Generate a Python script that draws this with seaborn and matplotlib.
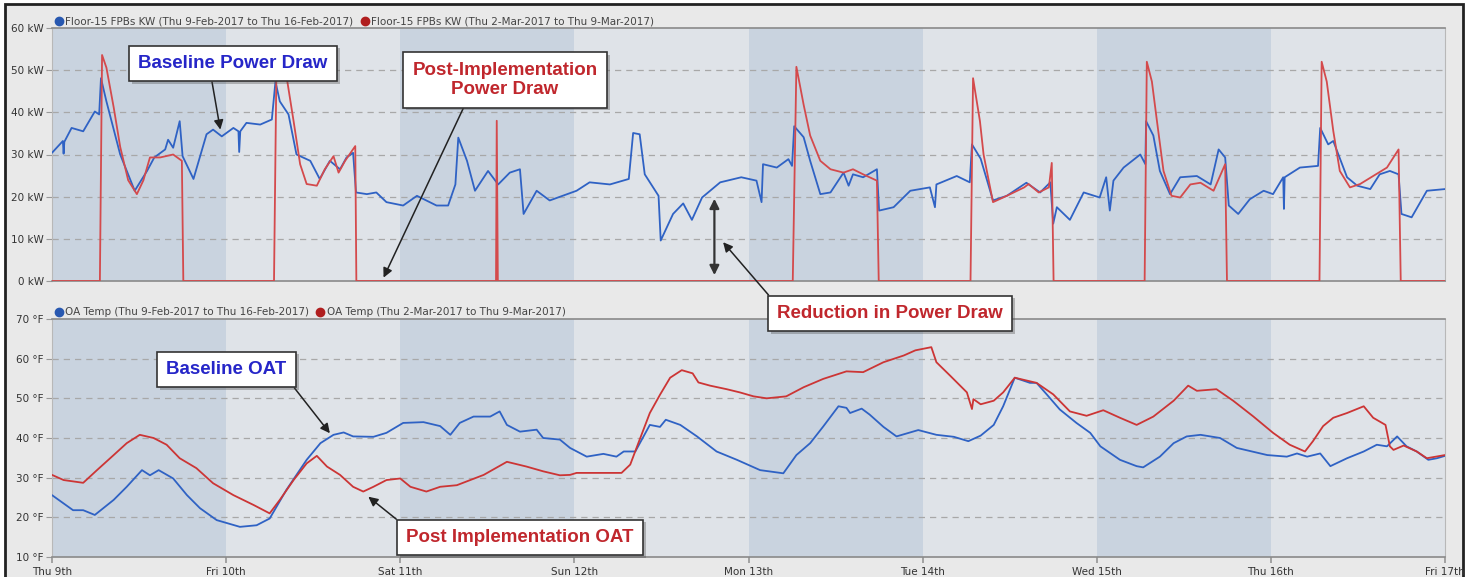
import matplotlib.pyplot as plt
import seaborn as sns
from matplotlib.lines import Line2D
from matplotlib.patches import Rectangle
import matplotlib.patheffects as pe

# hours from Thu 9th 00:00
day_labels = ['Thu 9th', 'Fri 10th', 'Sat 11th', 'Sun 12th', 'Mon 13th',
              'Tue 14th', 'Wed 15th', 'Thu 16th', 'Fri 17th']
day_hours = [0, 24, 48, 72, 96, 120, 144, 168, 192]

base_kw_h = [0, 1.5, 1.6, 1.7, 2.7, 4.3, 5.9, 6.5, 6.75, 7.5, 9.4, 11.4, 13.1, 14.1, 15.6, 16.0,
             16.7, 17.6, 18.0, 19.5, 21.3, 22.2, 23.4, 25.0, 25.7, 25.8, 25.95, 26.8, 28.7, 30.3,
             30.8, 31.4, 32.6, 33.7, 34.6, 35.6, 36.9, 38.3, 39.7, 40.6, 41.5, 41.9, 43.4, 44.7,
             46.1, 48.4, 50.3, 53.0, 54.6, 55.6, 56.0, 57.2, 58.3, 60.1, 61.5, 63.1, 64.5, 65.0,
             66.8, 68.6, 72.3, 74.1, 76.9, 79.5, 80.1, 81.0, 81.7, 83.6, 83.9, 85.6, 87.0, 88.2,
             89.6, 92.1, 95.0, 97.1, 97.8, 98.0, 99.9, 101.5, 102.0, 102.3, 103.6, 104.5, 105.9,
             107.3, 109.1, 109.8, 110.4, 111.8, 113.7, 114.0, 116.0, 118.3, 121.0, 121.7, 121.9,
             124.7, 126.5, 126.8, 128.0, 129.7, 131.6, 134.3, 136.2, 137.6, 138.0, 138.5, 140.3,
             142.2, 144.4, 145.3, 145.8, 146.3, 147.7, 150.0, 150.7, 150.8, 151.8, 152.7, 154.1,
             155.5, 157.8, 159.7, 160.8, 161.7, 162.2, 163.5, 165.1, 167.0, 168.3, 169.7, 169.8,
             169.9, 172.0, 174.5, 174.8, 175.9, 176.6, 178.5, 179.9, 181.7, 183.0, 184.4, 185.6,
             186.0, 187.4, 189.5, 192.0]
base_kw = [30.4, 33.2, 30.2, 33.0, 36.3, 35.5, 40.2, 39.5, 48.1, 42.6, 30.0, 21.4, 26.1, 29.3, 31.2, 33.5,
           31.6, 37.9, 29.6, 24.2, 34.8, 35.9, 34.3, 36.3, 35.5, 30.6, 35.5, 37.5, 37.1, 38.3,
           47.3, 42.6, 39.5, 30.0, 29.3, 28.5, 24.2, 28.5, 26.5, 29.3, 30.4, 21.0, 20.6, 21.0,
           18.7, 17.9, 20.2, 17.9, 17.9, 22.9, 34.0, 28.5, 21.4, 26.1, 22.9, 25.7, 26.5, 15.9,
           21.4, 19.1, 21.4, 23.4, 22.9, 24.2, 35.1, 34.8, 25.3, 20.2, 9.6, 15.9, 18.4, 14.5,
           19.8, 23.4, 24.6, 23.8, 18.7, 27.7, 26.9, 28.9, 27.3, 36.7, 34.1, 28.5, 20.6,
           21.0, 25.7, 22.6, 25.3, 24.6, 26.5, 16.7, 17.5, 21.4, 22.2, 17.5, 22.9,
           24.9, 23.4, 32.4, 29.0, 19.1, 20.2, 23.3, 21.0, 23.4, 13.6, 17.5, 14.5,
           21.0, 19.8, 24.6, 16.7, 23.8, 26.9, 30.0, 27.7, 37.9, 34.5, 26.1, 20.6,
           24.6, 24.9, 22.9, 31.2, 29.3, 17.9, 15.9, 19.4, 21.4, 20.6, 24.6, 17.1,
           24.6, 26.9, 27.3, 36.3, 32.4, 33.2, 24.6, 22.6, 21.8, 25.3, 26.1, 25.3,
           15.9, 15.1, 21.4, 21.8]

post_kw_h = [0, 6.6, 6.9, 7.5, 8.5, 9.4, 10.5, 11.7, 12.6, 13.5, 14.9, 16.7, 17.9, 18.1,
             30.6, 30.95, 32.4, 33.3, 34.2, 35.1, 36.5, 37.6, 38.8, 39.5, 40.4, 41.8, 41.95,
             61.2, 61.3, 61.45, 102.1, 102.6, 103.6, 104.5, 105.9, 107.3, 109.1, 110.4, 111.8,
             113.7, 113.95, 126.6, 126.95, 127.9, 128.4, 129.7, 131.6, 134.0, 134.6, 136.0, 137.4,
             137.8, 138.05, 150.6, 150.9, 151.6, 152.3, 153.2, 154.3, 155.5, 156.9, 158.3, 160.1,
             161.7, 161.95, 174.7, 175.0, 175.7, 176.6, 177.5, 178.9, 180.3, 182.1, 184.0, 185.6,
             185.9, 192.0]
post_kw = [0, 0, 53.6, 50.6, 41.2, 31.8, 23.9, 20.6, 23.9, 29.3, 29.3, 30.0, 28.5, 0,
           0, 53.0, 47.7, 37.9, 27.7, 23.0, 22.6, 26.5, 29.6, 25.7, 28.5, 32.0, 0,
           0, 38.0, 0, 0, 50.8, 41.8, 34.5, 28.5, 26.5, 25.7, 26.5, 25.3,
           23.8, 0, 0, 48.1, 37.9, 30.0, 18.7, 20.2, 22.2, 23.0, 21.0, 22.2,
           28.0, 0, 0, 52.0, 47.3, 37.9, 26.1, 20.2, 19.8, 22.9, 23.3, 21.4,
           27.7, 0, 0, 52.0, 47.3, 35.6, 26.1, 22.2, 23.0, 24.9, 26.9, 31.2,
           0, 0]

base_oat_h = [0, 2.9, 4.3, 5.9, 8.5, 10.3, 12.4, 13.5, 14.7, 16.7, 18.6, 20.4, 22.7, 25.9, 28.2,
              30.0, 32.3, 35.1, 37.0, 38.8, 40.2, 41.5, 44.3, 46.1, 48.4, 51.2, 53.5, 54.9, 56.2,
              58.1, 60.4, 61.7, 62.7, 64.5, 66.8, 67.7, 70.0, 71.4, 73.7, 76.0, 77.8, 78.8, 80.4,
              82.4, 83.8, 84.6, 86.6, 88.9, 91.6, 94.4, 97.6, 100.8, 102.6, 104.5, 106.3, 108.4,
              109.5, 110.0, 111.6, 112.7, 114.6, 116.4, 119.4, 121.9, 124.3, 126.3, 128.0, 129.8,
              131.1, 132.7, 134.8, 135.7, 137.1, 138.9, 141.2, 143.1, 144.5, 147.2, 149.5, 150.4,
              152.7, 154.6, 156.4, 158.3, 161.0, 163.3, 167.5, 170.2, 171.6, 173.0, 174.8, 176.2,
              178.5, 180.8, 182.6, 184.0, 185.4, 186.7, 188.1, 189.7, 190.9, 192.0]
base_oat = [25.6, 21.8, 21.8, 20.6, 24.4, 27.7, 31.9, 30.6, 31.9, 29.8, 25.6, 22.3, 19.3, 17.6, 18.0,
            19.7, 26.9, 34.5, 38.7, 40.8, 41.4, 40.4, 40.3, 41.3, 43.8, 44.0, 43.0, 40.8, 43.8,
            45.4, 45.4, 46.7, 43.3, 41.6, 42.1, 40.0, 39.6, 37.5, 35.3, 36.0, 35.3, 36.6, 36.6,
            43.3, 42.8, 44.6, 43.3, 40.4, 36.6, 34.5, 31.9, 31.1, 35.7, 38.7, 42.9, 48.0,
            47.6, 46.3, 47.4, 45.9, 42.8, 40.4, 42.0, 40.8, 40.3, 39.2, 40.6, 43.3,
            48.0, 55.2, 53.9, 53.9, 51.0, 47.2, 43.8, 41.3, 37.9, 34.5, 32.9, 32.6,
            35.3, 38.7, 40.4, 40.8, 40.0, 37.5, 35.7, 35.3, 36.1, 35.3, 36.1, 32.9,
            34.9, 36.6, 38.3, 37.9, 40.4, 37.9, 36.6, 34.5, 34.9, 35.5]

post_oat_h = [0, 1.6, 4.3, 6.2, 8.5, 10.3, 12.1, 14.0, 15.8, 17.6, 19.9, 22.2, 25.0, 27.8, 30.0,
              31.4, 33.3, 35.1, 36.5, 37.9, 39.7, 41.5, 42.9, 44.3, 46.1, 48.0, 49.4, 51.6, 53.5,
              55.8, 59.5, 62.7, 65.4, 67.7, 70.0, 71.4, 72.3, 78.5, 79.7, 81.0, 82.4, 83.8, 85.2,
              86.8, 88.3, 89.1, 90.7, 93.0, 94.8, 96.7, 98.5, 101.2, 103.6, 106.3, 109.5, 111.8,
              114.6, 117.4, 119.0, 121.2, 121.9, 123.8, 126.1, 126.8, 127.0, 128.0, 129.8, 131.1,
              132.7, 135.7, 138.0, 140.3, 142.6, 144.9, 147.2, 149.5, 151.8, 154.6, 156.6, 157.8,
              160.5, 162.8, 165.6, 168.3, 170.6, 172.7, 173.8, 175.2, 176.6, 178.5, 180.8, 182.1,
              183.8, 184.4, 184.9, 186.3, 188.1, 189.5, 192.0]
post_oat = [30.7, 29.4, 28.7, 31.9, 35.7, 38.7, 40.8, 40.0, 38.3, 34.9, 32.4, 28.6, 25.6, 23.1, 21.0,
            24.4, 29.4, 33.6, 35.5, 32.8, 30.7, 27.7, 26.5, 27.7, 29.4, 29.8, 27.7, 26.5, 27.7,
            28.1, 30.7, 34.0, 32.8, 31.6, 30.6, 30.7, 31.2, 31.2, 33.3, 39.6, 46.3, 50.9, 55.2,
            57.1, 56.3, 54.0, 53.2, 52.3, 51.5, 50.5, 50.0, 50.5, 52.8, 54.9, 56.8, 56.6,
            59.1, 60.8, 62.1, 62.9, 59.1, 55.7, 51.5, 47.3, 49.8, 48.5, 49.4, 51.5,
            55.2, 53.9, 51.0, 46.7, 45.6, 47.0, 45.1, 43.3, 45.4, 49.4, 53.2, 51.9,
            52.3, 49.4, 45.4, 41.3, 38.3, 36.6, 39.2, 43.0, 45.1, 46.3, 48.0, 45.1,
            43.3, 37.9, 37.0, 38.1, 36.6, 34.9, 35.7]

kw_ticks = [0, 10, 20, 30, 40, 50, 60]
oat_ticks = [10, 20, 30, 40, 50, 60, 70]

blue = '#2f62c4'
red_kw = '#d44a4c'
red_oat = '#cc3535'
band_dark = '#c9d3df'
band_light = '#dfe3e8'
bg = '#e9e9e9'

sns.set_theme(style='white')
plt.rcParams['font.family'] = ['DejaVu Sans']

fig = plt.figure(figsize=(14.75, 5.77), dpi=100, facecolor='white')
fig.patches.append(Rectangle((5 / 1475, -0.05), 1458 / 1475, 1.05 - 4 / 577, transform=fig.transFigure,
                             facecolor=bg, edgecolor='#222222', lw=2, zorder=-10))

ax_t = fig.add_axes([52 / 1475, 1 - 557 / 577, 1393 / 1475, 238 / 577])
ax_k = fig.add_axes([52 / 1475, 1 - 281 / 577, 1393 / 1475, 253 / 577])
ax_k.set_zorder(3)


def style_axis(ax, ticks, unit):
    for i in range(8):
        ax.axvspan(day_hours[i], day_hours[i + 1], color=band_dark if i % 2 == 0 else band_light,
                   lw=0, zorder=0)
    ax.set_xlim(0, 192)
    ax.set_ylim(ticks[0], ticks[-1])
    ax.set_yticks(ticks)
    ax.set_yticklabels([f'{t} {unit}' for t in ticks], fontsize=7.5, color='#333333')
    for t in ticks[1:-1]:
        ax.axhline(t, color='#a8a8a8', lw=0.9, ls=(0, (5, 4)), zorder=1)
    ax.tick_params(axis='y', length=4, width=0.8, color='#999999', pad=2, left=True)
    for side in ['left', 'right']:
        ax.spines[side].set_color('#b8b8b8')
        ax.spines[side].set_linewidth(0.8)
    ax.spines['top'].set_color('#8a8a8a')
    ax.spines['bottom'].set_color('#8a8a8a')
    ax.spines['top'].set_linewidth(1.2)
    ax.spines['bottom'].set_linewidth(1.2)
    ax.set_xlabel('')
    ax.set_ylabel('')


sns.lineplot(x=base_kw_h, y=base_kw, ax=ax_k, color=blue, lw=1.3, estimator=None, sort=False, zorder=3)
sns.lineplot(x=post_kw_h, y=post_kw, ax=ax_k, color=red_kw, lw=1.3, estimator=None, sort=False, zorder=4)
style_axis(ax_k, kw_ticks, 'kW')
ax_k.set_xticks(day_hours)
ax_k.tick_params(axis='x', length=0, labelbottom=False)

sns.lineplot(x=base_oat_h, y=base_oat, ax=ax_t, color=blue, lw=1.3, estimator=None, sort=False, zorder=3)
sns.lineplot(x=post_oat_h, y=post_oat, ax=ax_t, color=red_oat, lw=1.3, estimator=None, sort=False, zorder=4)
style_axis(ax_t, oat_ticks, '°F')
ax_t.set_xticks(day_hours)
ax_t.set_xticklabels(day_labels, fontsize=7.5, color='#333333')
ax_t.tick_params(axis='x', length=4, color='#999999', pad=3, bottom=True)


# legends
def add_legend(ax, names):
    handles = [Line2D([], [], ls='', marker='o', ms=6, mfc=c, mec=c) for c in ['#2858b0', '#b01e1e']]
    leg = ax.legend(handles, names, loc='lower left', bbox_to_anchor=(0, 1.0), ncol=2, frameon=False,
                    fontsize=7.5, handletextpad=0.1, columnspacing=0.6, handlelength=1.0,
                    borderaxespad=0.15, borderpad=0)
    for t in leg.get_texts():
        t.set_color('#444444')


add_legend(ax_k, ['Floor-15 FPBs KW (Thu 9-Feb-2017 to Thu 16-Feb-2017)',
                  'Floor-15 FPBs KW (Thu 2-Mar-2017 to Thu 9-Mar-2017)'])
add_legend(ax_t, ['OA Temp (Thu 9-Feb-2017 to Thu 16-Feb-2017)',
                  'OA Temp (Thu 2-Mar-2017 to Thu 9-Mar-2017)'])

# annotations
box = dict(boxstyle='square,pad=0.5', fc='white', ec='#333333', lw=1.2)
arrow = dict(arrowstyle='-|>', color='#222222', lw=1.1, mutation_scale=14, shrinkA=0, shrinkB=0)
txt_blue = '#2626c8'
txt_red = '#c0272d'
shadow = [pe.SimplePatchShadow(offset=(2, -2), alpha=0.35), pe.Normal()]

notes = [
    (ax_k, 'Baseline Power Draw', (23.2, 35.9), (233, 63.5), txt_blue, (0.38, 0)),
    (ax_k, 'Post-Implementation\nPower Draw', (45.7, 0.8), (505, 80), txt_red, (0.3, 0)),
    (ax_k, 'Reduction in Power Draw', (92.5, 9.2), (890, 313.5), txt_red, (0, 1)),
    (ax_t, 'Baseline OAT', (38.3, 41.2), (226.5, 369.5), txt_blue, (1, 0)),
    (ax_t, 'Post Implementation OAT', (43.6, 25.2), (520, 537.5), txt_red, (0.01, 1)),
]
for ax, label, xy, pos, col, rel in notes:
    a = ax.annotate(label, xy=xy, xytext=(pos[0] / 1475, 1 - pos[1] / 577),
                    textcoords='figure fraction', ha='center', va='center', fontsize=13.5,
                    linespacing=1.2, fontweight='bold', color=col, family='Liberation Sans', bbox=box,
                    arrowprops=dict(arrow, relpos=rel), zorder=10, annotation_clip=False)
    a.get_bbox_patch().set_path_effects(shadow)

ax_k.annotate('', xy=(91.3, 1.4), xytext=(91.3, 19.5),
              arrowprops=dict(arrowstyle='<|-|>', color='#333333', lw=1.6, mutation_scale=14,
                              shrinkA=0, shrinkB=0), zorder=9)

fig.savefig('out.png', dpi=100, facecolor=fig.get_facecolor())
